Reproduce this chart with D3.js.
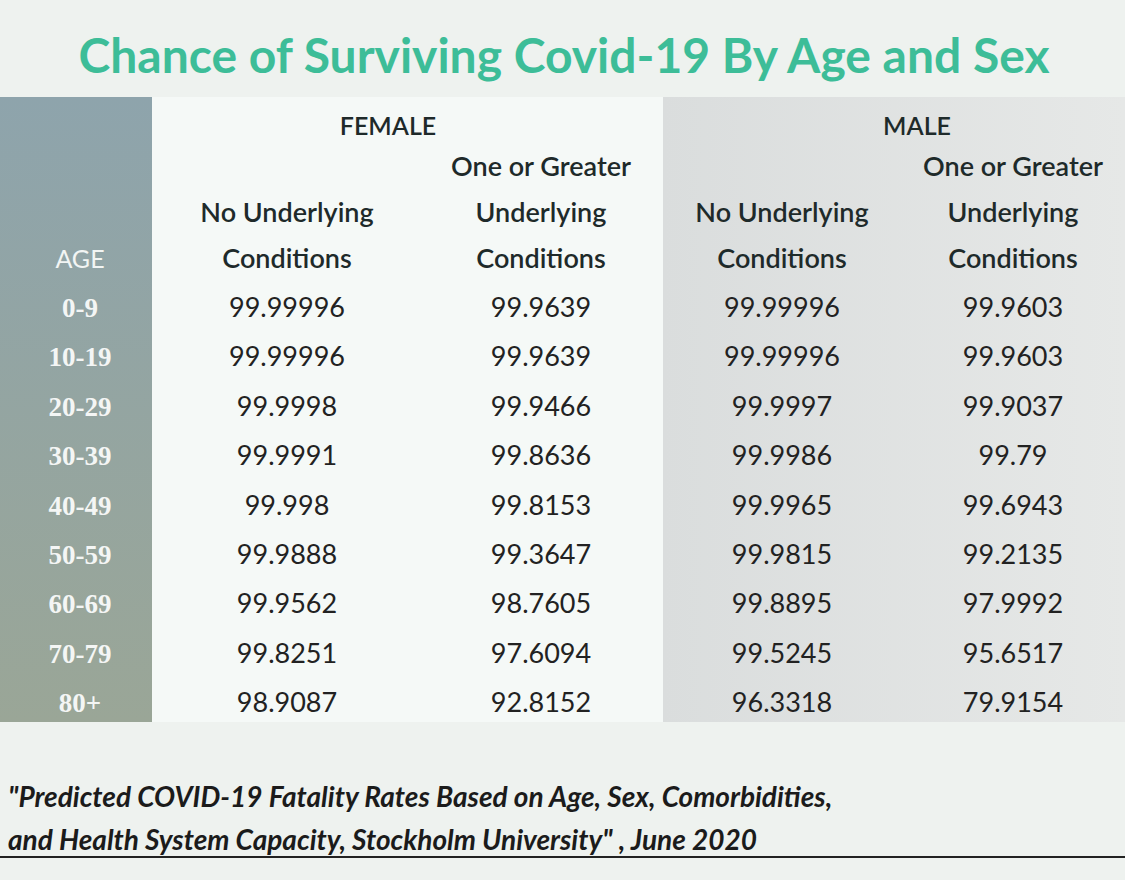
<!DOCTYPE html>
<html><head><meta charset="utf-8">
<script src="https://cdn.jsdelivr.net/npm/d3@7"></script>
<style>body{margin:0;background:#eef2ef}svg{display:block}</style>
</head><body>
<svg id="chart" width="1125" height="880"></svg>
<script>
var ages = ["0-9","10-19","20-29","30-39","40-49","50-59","60-69","70-79","80+"];
var femaleNone = ["99.99996","99.99996","99.9998","99.9991","99.998","99.9888","99.9562","99.8251","98.9087"];
var femaleSome = ["99.9639","99.9639","99.9466","99.8636","99.8153","99.3647","98.7605","97.6094","92.8152"];
var maleNone = ["99.99996","99.99996","99.9997","99.9986","99.9965","99.9815","99.8895","99.5245","96.3318"];
var maleSome = ["99.9603","99.9603","99.9037","99.79","99.6943","99.2135","97.9992","95.6517","79.9154"];
var columns = ["fn","fs","mn","ms"];
var colCenters = [287, 541, 782, 1013];

var svg = d3.select("#chart");
var font = "Lato, 'Open Sans', sans-serif";

var defs = svg.append("defs");
var g1 = defs.append("linearGradient").attr("id","ageg").attr("x1",0).attr("y1",0).attr("x2",0).attr("y2",1);
g1.append("stop").attr("offset","0%").attr("stop-color","#8ea4ac");
g1.append("stop").attr("offset","100%").attr("stop-color","#9aa697");
var g2 = defs.append("linearGradient").attr("id","maleg").attr("x1",0).attr("y1",0).attr("x2",1).attr("y2",0);
g2.append("stop").attr("offset","0%").attr("stop-color","#dadddd");
g2.append("stop").attr("offset","100%").attr("stop-color","#e6e8e7");

// title
svg.append("text").attr("x", 564).attr("y", 73).attr("text-anchor","middle")
  .style("font-family", font).style("font-weight","bold").style("font-size","48px")
  .style("fill","#3dbd98").text("Chance of Surviving Covid-19 By Age and Sex");

// panels
var panelTop = 97, panelBottom = 722;
svg.append("rect").attr("x",0).attr("y",panelTop).attr("width",152).attr("height",panelBottom-panelTop).attr("fill","url(#ageg)");
svg.append("rect").attr("x",152).attr("y",panelTop).attr("width",511).attr("height",panelBottom-panelTop).attr("fill","#f5f9f7");
svg.append("rect").attr("x",663).attr("y",panelTop).attr("width",462).attr("height",panelBottom-panelTop).attr("fill","url(#maleg)");

var y = d3.scaleBand().domain(ages).range([283, 728]).padding(0);
var x = d3.scaleOrdinal().domain(columns).range(colCenters);

// header
function txt(xp, yp, s, opt) {
  opt = opt || {};
  return svg.append("text").attr("x", xp).attr("y", yp).attr("text-anchor","middle")
    .style("font-family", opt.family || font).style("font-weight", opt.weight || "600")
    .style("font-size", opt.size || "27px").style("fill", opt.fill || "#1e2a2a").text(s);
}
txt(388, 135, "FEMALE", {size:"25px"});
txt(917, 135, "MALE", {size:"25px"});
["fs","ms"].forEach(function(c){
  txt(x(c), 176, "One or Greater");
  txt(x(c), 222, "Underlying");
  txt(x(c), 268, "Conditions");
});
["fn","mn"].forEach(function(c){
  txt(x(c), 222, "No Underlying");
  txt(x(c), 268, "Conditions");
});
txt(80, 268, "AGE", {fill:"#f2f5f4", weight:"normal", size:"25px"});

// rows
var series = {fn: femaleNone, fs: femaleSome, mn: maleNone, ms: maleSome};
svg.append("g").selectAll("text").data(ages).join("text")
  .attr("x", 80).attr("y", function(d){ return y(d) + y.bandwidth()/2 + 9; })
  .attr("text-anchor","middle").style("font-family","'Liberation Serif', serif")
  .style("font-weight","bold").style("font-size","27px").style("fill","#f4f6f5").text(function(d){ return d; });

columns.forEach(function(c){
  svg.append("g").selectAll("text").data(series[c]).join("text")
    .attr("x", x(c)).attr("y", function(d,i){ return y(ages[i]) + y.bandwidth()/2 + 9; })
    .attr("text-anchor","middle").style("font-family", font).style("font-size","27px")
    .style("fill","#222").text(function(d){ return d; });
});

// footer
var foot = svg.append("g").style("font-family", font).style("font-style","italic")
  .style("font-weight","bold").style("font-size","28px").style("fill","#1b1b1b");
foot.append("text").attr("x",8).attr("y",807).text("\"Predicted COVID-19 Fatality Rates Based on Age, Sex, Comorbidities,");
foot.append("text").attr("x",8).attr("y",850).text("and Health System Capacity,  Stockholm University\" , June 2020");
svg.append("line").attr("x1",0).attr("x2",1125).attr("y1",857).attr("y2",857).attr("stroke","#222").attr("stroke-width",2);
</script>
</body></html>
